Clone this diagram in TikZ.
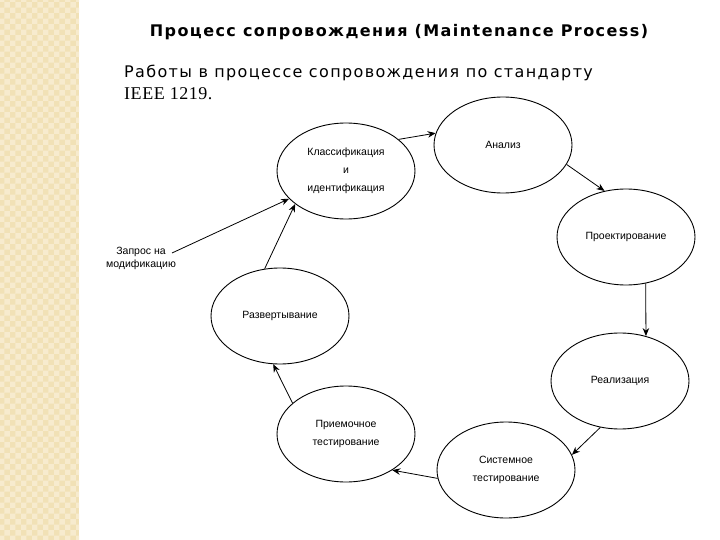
\documentclass[tikz,border=0pt]{standalone}
\usepackage{fontspec}
\setmainfont{DejaVu Sans}[LetterSpace=8.5]
\newfontfamily\boxfont{Liberation Sans}
\newfontfamily\serfont{Liberation Serif}[LetterSpace=3]
\newfontfamily\headfont{DejaVu Sans}[LetterSpace=9]
\usetikzlibrary{arrows.meta,shapes.geometric,patterns}
\definecolor{stripbase}{RGB}{241,225,182}
\definecolor{striplight}{RGB}{247,235,206}

\begin{document}
\begin{tikzpicture}[x=1pt,y=-1pt,>={Stealth[length=8pt,width=6.5pt]},
  stage/.style={draw,ellipse,line width=0.9pt,minimum width=138pt,minimum height=96pt,
    inner sep=0pt,align=center,font=\boxfont\fontsize{10.5}{18}\selectfont},
  flow/.style={->,line width=0.8pt}]
  \useasboundingbox (0,0) rectangle (720,540);
  % beige strip on the left
  \fill[stripbase] (0,0) rectangle (79,540);
  \fill[pattern=checkerboard,pattern color=striplight] (0,0) rectangle (79,540);
  % heading and text
  \node[font=\headfont\bfseries\fontsize{16}{16}\selectfont] (title) at (399,32)
    {Процесс сопровождения (Maintenance Process)};
  \node[anchor=west,inner sep=0pt,font=\fontsize{16}{18}\selectfont] (sub) at (124,73)
    {Работы в процессе сопровождения по стандарту};
  \node[anchor=west,inner sep=0pt,font=\serfont\fontsize{18}{18}\selectfont] (std) at (124,94)
    {IEEE 1219.};
  % stages of the cycle
  \node[stage] (klass) at (346,171) {Классификация\\и\\идентификация};
  \node[stage] (anal) at (503,145) {Анализ};
  \node[stage] (proj) at (626,237) {Проектирование};
  \node[stage] (real) at (620,381) {Реализация};
  \node[stage] (sys) at (506,470) {Системное\\тестирование};
  \node[stage] (acc) at (346,434) {Приемочное\\тестирование};
  \node[stage] (depl) at (280,316) {Развертывание};
  % request
  \node[align=center,font=\boxfont\fontsize{10.5}{13}\selectfont] (req) at (141,258)
    {Запрос на\\модификацию};
  \coordinate (reqend) at (172,253);
  % arrows
  \draw[flow] (reqend) -- (klass.206);
  \draw[flow] (depl.108) -- (klass.213);
  \draw[flow] (klass.31) -- (anal.170);
  \draw[flow] (anal.343) -- (proj.115);
  \draw[flow] (proj.293) -- (real.60);
  \draw[flow] (real.247) -- (sys.13);
  \draw[flow] (sys.187) -- (acc.322);
  \draw[flow] (acc.150) -- (depl.262);
\end{tikzpicture}
\end{document}
